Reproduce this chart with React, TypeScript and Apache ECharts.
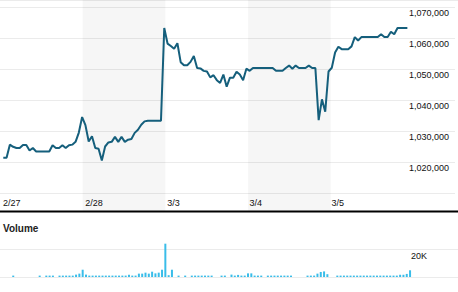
import React, { useEffect, useRef } from "react";
import * as echarts from "echarts";

// ---- data ----
const dayLabels = ["2/27", "2/28", "3/3", "3/4", "3/5"];
const pointsPerDay = 25;
const shadedDays = [1, 3];
const axisPointExtent = 138.5; // visible span of the time axis, in data points

const priceMin = 1010000;
const priceMax = 1070000;
const priceStep = 10000;
const volumeMax = 20000;

const prices0227 = [
  1021400, 1021400, 1025600, 1024900, 1024500, 1024500, 1025500, 1025500, 1023700, 1024500,
  1023400, 1023400, 1023400, 1023400, 1023400, 1025400, 1024500, 1024500, 1025400, 1024500,
  1025400, 1025600, 1026500, 1029500,
];
const prices0228 = [
  1034500, 1031900, 1026600, 1028300, 1024500, 1024300, 1020500, 1025000, 1026300, 1026500,
  1028100, 1026500, 1028100, 1026500, 1027200, 1027400, 1029400, 1030400, 1032000, 1033100,
  1033300, 1033300, 1033300, 1033300, 1033300,
];
const prices0303 = [
  1063200, 1058200, 1057400, 1056500, 1058300, 1052200, 1051200, 1051200, 1052300, 1054200,
  1050300, 1050200, 1049400, 1049200, 1047300, 1048000, 1046400, 1045500, 1048200, 1044300,
  1047200, 1047200, 1049100, 1048200, 1046400,
];
const prices0304 = [
  1050100, 1049400, 1050300, 1050300, 1050300, 1050300, 1050300, 1050300, 1050300, 1049400,
  1049400, 1049400, 1050300, 1051100, 1050100, 1051100, 1050300, 1050300, 1050300, 1051100,
  1050300, 1050300, 1033500, 1040200, 1036200,
];
const prices0305 = [
  1049200, 1050400, 1055300, 1057200, 1056400, 1056400, 1056400, 1057300, 1060300, 1059200,
  1060300, 1060300, 1060300, 1060300, 1060300, 1060300, 1061200, 1060300, 1060300, 1062000,
  1061200, 1063200, 1063200, 1063200, 1063200,
];

const volumes0227 = [
  0, 0, 0, 1000, 0, 0, 0, 0, 0, 0, 0, 1000, 0, 1000, 1000, 1000, 0, 1000, 1000, 1000,
  1000, 1000, 1700, 2400,
];
const volumes0228 = [
  5200, 1700, 1000, 1000, 1000, 1000, 1000, 1000, 1000, 1000, 1000, 1000, 1000, 1000, 1600,
  1000, 1000, 2400, 2400, 3100, 2400, 3800, 2600, 3100, 5200,
];
const volumes0303 = [
  23800, 1300, 5200, 0, 1000, 0, 1000, 0, 1000, 1000, 1000, 1000, 1000, 1000, 1000, 0, 0,
  1000, 1000, 0, 1700, 1000, 1500, 1000, 1000,
];
const volumes0304 = [
  2600, 2600, 1000, 1000, 1000, 0, 1000, 1000, 1000, 1000, 1000, 1000, 1000, 1000, 0, 0, 0,
  0, 1000, 1000, 1000, 2400, 3600, 4000, 2000,
];
const volumes0305 = [
  0, 0, 1000, 1000, 1000, 1000, 1000, 1000, 1000, 1000, 1000, 1000, 1000, 1000, 1000, 1000,
  1000, 1000, 1000, 1000, 1000, 1600, 1600, 2200, 4800,
];

const prices = [...prices0227, ...prices0228, ...prices0303, ...prices0304, ...prices0305];
const volumes = [...volumes0227, ...volumes0228, ...volumes0303, ...volumes0304, ...volumes0305];

const FONT = '"Liberation Sans", Arial, sans-serif';
const GRID_COLOR = "#ebebeb";

export default function App() {
  const ref = useRef<HTMLDivElement>(null);
  useEffect(() => {
    if (!ref.current) return;
    const chart = echarts.init(ref.current, null, { renderer: "svg" });

    const linePts = prices.map((v, i) => [i + 1, v]);
    const volPts = volumes.map((v, i) => [i + 1, v]);

    const xBase = (gridIndex: number) => ({
      gridIndex,
      type: "value",
      min: 0,
      max: axisPointExtent,
      interval: pointsPerDay,
      axisLine: { show: false },
      axisTick: { show: false },
      splitLine: { show: false },
      axisLabel: { show: false },
    });

    const option: any = {
      animation: false,
      grid: [
        { left: 0, right: 0, top: 7, height: 186 },
        { left: 0, right: 0, top: 249, height: 28 },
        { left: 0, right: 0, top: 0, height: 211 },
      ],
      xAxis: [
        {
          ...xBase(0),
          axisLabel: {
            show: true,
            align: "left",
            margin: 5,
            fontSize: 9,
            fontFamily: FONT,
            color: "#111",
            padding: [0, 0, 0, 3],
            formatter: (v: number) => {
              const d = Math.round(v / pointsPerDay);
              return v % pointsPerDay === 0 && d < dayLabels.length ? dayLabels[d] : "";
            },
          },
        },
        xBase(1),
        xBase(2),
      ],
      yAxis: [
        {
          gridIndex: 0,
          type: "value",
          position: "right",
          min: priceMin,
          max: priceMax,
          interval: priceStep,
          axisLine: { show: false },
          axisTick: { show: false },
          splitLine: { lineStyle: { color: GRID_COLOR, width: 1 } },
          axisLabel: {
            inside: true,
            align: "left",
            verticalAlign: "top",
            margin: 46,
            fontSize: 9,
            fontFamily: FONT,
            color: "#111",
            padding: [1, 0, 0, 0],
            formatter: (v: number) => (v === priceMin ? "" : v.toLocaleString("en-US")),
          },
        },
        {
          gridIndex: 1,
          type: "value",
          position: "right",
          min: 0,
          max: volumeMax,
          interval: volumeMax,
          axisLine: { show: false },
          axisTick: { show: false },
          splitLine: { lineStyle: { color: GRID_COLOR, width: 1 } },
          axisLabel: {
            inside: true,
            align: "left",
            verticalAlign: "top",
            margin: 47,
            fontSize: 9,
            fontFamily: FONT,
            color: "#111",
            padding: [2, 0, 0, 0],
            formatter: (v: number) => (v === 0 ? "" : v / 1000 + "K"),
          },
        },
        {
          gridIndex: 2,
          type: "value",
          min: 0,
          max: 1,
          show: false,
          splitLine: { show: false },
        },
      ],
      series: [
        {
          type: "line",
          xAxisIndex: 2,
          yAxisIndex: 2,
          data: [[0, 0]],
          symbol: "none",
          lineStyle: { width: 0, opacity: 0 },
          silent: true,
          z: 0,
          markArea: {
            silent: true,
            itemStyle: { color: "rgba(0,0,0,0.035)" },
            data: shadedDays.map((d) => [
              { xAxis: d * pointsPerDay },
              { xAxis: (d + 1) * pointsPerDay },
            ]),
          },
        },
        {
          type: "line",
          xAxisIndex: 0,
          yAxisIndex: 0,
          data: linePts,
          symbol: "none",
          lineStyle: { color: "#155f7c", width: 2 },
          z: 3,
        },
        {
          type: "bar",
          xAxisIndex: 1,
          yAxisIndex: 1,
          data: volPts,
          barWidth: 2,
          clip: false,
          itemStyle: { color: "#3abde9" },
          z: 3,
        },
      ],
      graphic: [
        {
          type: "line",
          shape: { x1: 0, y1: 0.5, x2: 458, y2: 0.5 },
          style: { stroke: GRID_COLOR, lineWidth: 1 },
          silent: true,
        },
        {
          type: "line",
          shape: { x1: 0, y1: 211.5, x2: 458, y2: 211.5 },
          style: { stroke: "#000", lineWidth: 2 },
          silent: true,
          z: 10,
        },
        {
          type: "text",
          x: 3,
          y: 228,
          style: {
            text: "Volume",
            font: `bold 10px ${FONT}`,
            fill: "#222",
            verticalAlign: "middle",
          },
          silent: true,
        },
      ],
    };

    chart.setOption(option);
    return () => chart.dispose();
  }, []);

  return (
    <div
      ref={ref}
      style={{ position: "fixed", left: 0, top: 0, width: 458, height: 292, background: "#fff" }}
    />
  );
}
